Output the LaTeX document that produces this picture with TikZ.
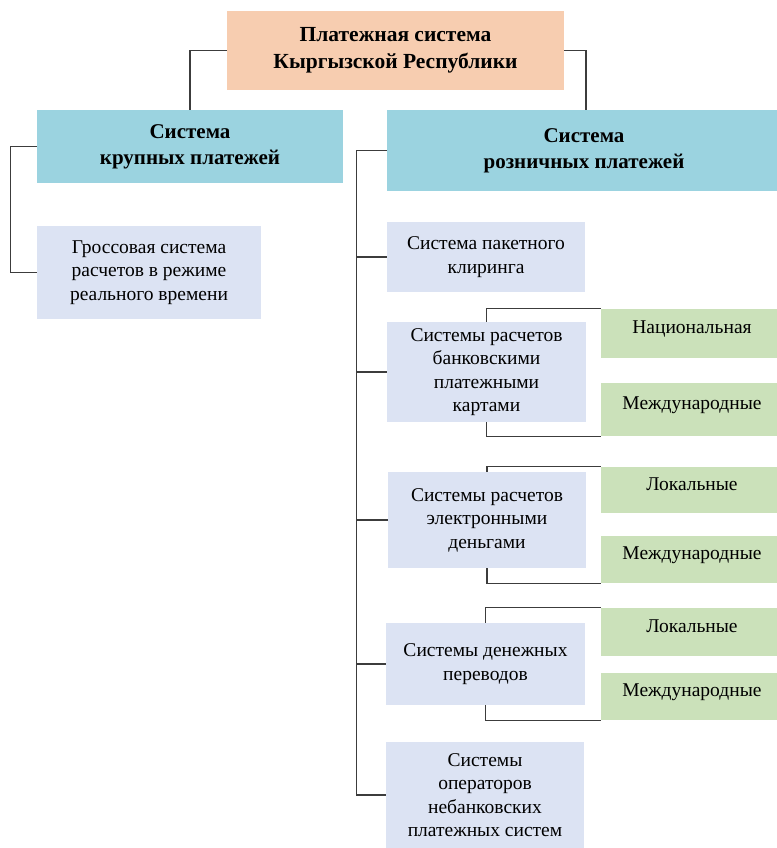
\documentclass[tikz,border=0pt]{standalone}
\usepackage{fontspec}
\setmainfont{Liberation Serif}
\usepackage{tikz}
\usetikzlibrary{calc}
\definecolor{Ink}{HTML}{3C3C3C}
\definecolor{Peach}{HTML}{F7CDB0}
\definecolor{Aqua}{HTML}{9BD3E0}
\definecolor{Lilac}{HTML}{DCE3F3}
\definecolor{Sage}{HTML}{CBE1BA}
\tikzset{
  wh/.style 2 args={minimum width=#1pt,minimum height=#2pt},
  box/.style={inner sep=2pt,align=center,font=\fontsize{19.5}{23.5}\selectfont},
  headbox/.style={box,fill=Peach,font=\bfseries\fontsize{21.5}{27}\selectfont},
  groupbox/.style={box,fill=Aqua,font=\bfseries\fontsize{21}{26}\selectfont},
  itembox/.style={box,fill=Lilac},
  kindbox/.style={box,fill=Sage,minimum width=182pt,text height=10pt,text depth=10pt},
  link/.style={draw=Ink,line width=1.2pt}
}
\begin{document}
\begin{tikzpicture}[x=1pt,y=-1pt]
  \useasboundingbox (0,0) rectangle (776,848);
  \node[headbox,wh={337}{79}] (top) at (395.5,50.5) {Платежная система\\Кыргызской Республики};
  \node[groupbox,wh={306}{73}] (krup) at (190,146.5) {Система\\крупных платежей};
  \node[groupbox,wh={394}{81}] (rozn) at (584,150.5) {Система\\розничных платежей};
  \node[itembox,wh={224}{93}] (gross) at (149,272.5) {Гроссовая система\\расчетов в режиме\\реального времени};
  \node[itembox,wh={198}{70}] (paket) at (486,257) {Система пакетного\\клиринга};
  \node[itembox,wh={199}{100}] (cards) at (486.5,372) {Системы расчетов\\банковскими\\платежными\\картами};
  \node[itembox,wh={198}{96}] (emoney) at (487,520) {Системы расчетов\\электронными\\деньгами};
  \node[itembox,wh={199}{82}] (transf) at (485.5,664) {Системы денежных\\переводов};
  \node[itembox,wh={198}{106}] (oper) at (485,795) {Системы\\операторов\\небанковских\\платежных систем};
  \node[kindbox,minimum height=49pt] (nat) at (692,333.5) {Национальная};
  \node[kindbox,minimum height=53pt] (intA) at (692,409.5) {Международные};
  \node[kindbox,minimum height=46pt] (locB) at (692,490) {Локальные};
  \node[kindbox,minimum height=47pt] (intB) at (692,559.5) {Международные};
  \node[kindbox,minimum height=48pt] (locC) at (692,632) {Локальные};
  \node[kindbox,minimum height=47pt] (intC) at (692,696.5) {Международные};
  % links from the top
  \draw[link] (top.west) -| (krup.north);
  \draw[link] (top.east) -| ($(rozn.north)+(2,0)$);
  \draw[link] (krup.west) -- ++(-26,0) |- (gross.west);
  % retail trunk
  \coordinate (trunk) at ($(rozn.west)+(-30,0)$);
  \draw[link] (rozn.west) -- (trunk) |- (oper.west);
  \foreach \n in {paket,cards,emoney,transf}
    \draw[link] (trunk |- \n.west) -- (\n.west);
  % brackets to the kinds
  \draw[link] (cards.north) |- (nat.north west);
  \draw[link] (cards.south) |- (intA.south west);
  \draw[link] (emoney.north) |- (locB.north west);
  \draw[link] (emoney.south) |- (intB.south west);
  \draw[link] (transf.north) |- (locC.north west);
  \draw[link] (transf.south) |- (intC.south west);
\end{tikzpicture}
\end{document}
